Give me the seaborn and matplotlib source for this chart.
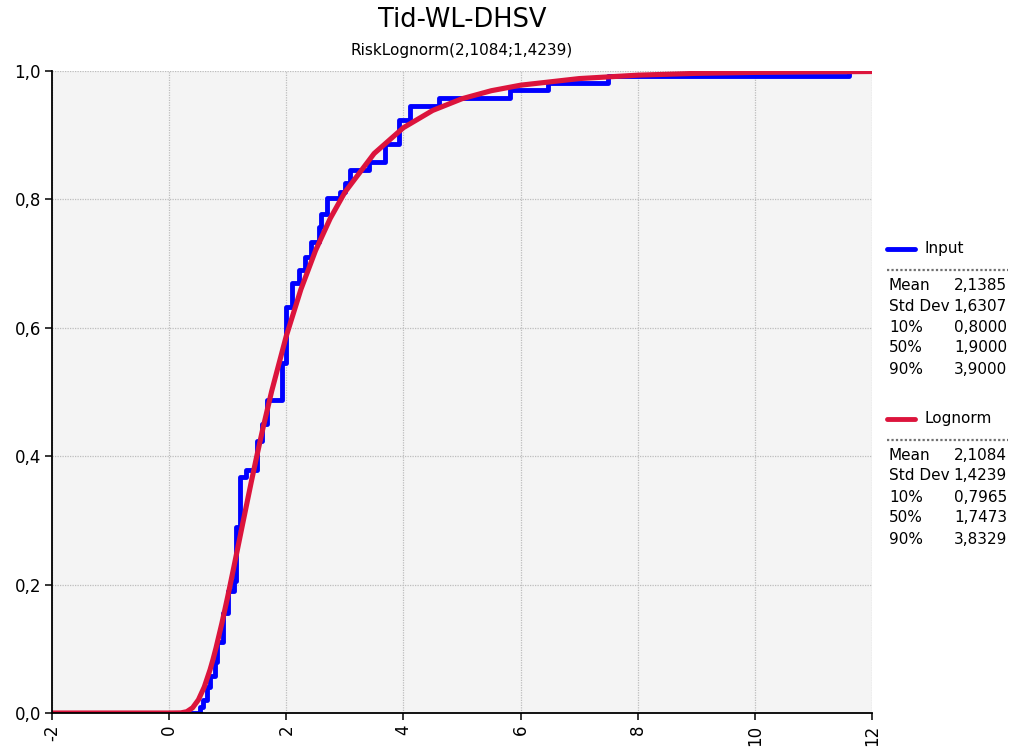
import matplotlib
matplotlib.use("Agg")
import matplotlib.pyplot as plt
from matplotlib.ticker import FuncFormatter
from matplotlib.lines import Line2D
import seaborn as sns

# ---- data ----
input_x = [-2.0, 0.53, 0.58, 0.64, 0.70, 0.78, 0.81, 0.92, 1.01, 1.10, 1.14, 1.21,
           1.32, 1.50, 1.58, 1.67, 1.93, 2.00, 2.09, 2.21, 2.32, 2.42, 2.55, 2.60,
           2.70, 2.92, 3.00, 3.08, 3.42, 3.68, 3.93, 4.12, 4.60, 5.82, 6.47, 7.50,
           11.6, 12.0]
input_cdf = [0.0, 0.01, 0.02, 0.04, 0.057, 0.08, 0.11, 0.155, 0.19, 0.205, 0.29, 0.368,
             0.378, 0.423, 0.45, 0.488, 0.545, 0.633, 0.67, 0.69, 0.711, 0.734, 0.757, 0.778,
             0.802, 0.812, 0.825, 0.846, 0.858, 0.887, 0.924, 0.945, 0.958, 0.970, 0.981, 0.992,
             1.0, 1.0]

fit_x = [-2, 0, 0.2, 0.3, 0.4, 0.5, 0.6, 0.7, 0.75, 0.8, 0.9, 1.0, 1.1, 1.25, 1.4, 1.5,
         1.6, 1.75, 2.0, 2.25, 2.5, 2.75, 3.0, 3.5, 4.0, 4.5, 5.0, 5.5, 6.0, 7.0, 8.0,
         9.0, 10.0, 11.0, 12.0]
fit_cdf = [0, 0, 0.0002, 0.0020, 0.0081, 0.0206, 0.0406, 0.0678, 0.0838, 0.1013, 0.1396,
           0.1813, 0.2252, 0.2924, 0.3589, 0.4017, 0.4429, 0.5010, 0.5872, 0.6600, 0.7205,
           0.7703, 0.8111, 0.8715, 0.9117, 0.9386, 0.9568, 0.9693, 0.9779, 0.9882, 0.9935,
           0.9963, 0.9978, 0.9987, 0.9992]

stat_labels = ["Mean", "Std Dev", "10%", "50%", "90%"]
input_stats = ["2,1385", "1,6307", "0,8000", "1,9000", "3,9000"]
fit_stats = ["2,1084", "1,4239", "0,7965", "1,7473", "3,8329"]

x_ticks = [-2, 0, 2, 4, 6, 8, 10, 12]
y_ticks = [0.0, 0.2, 0.4, 0.6, 0.8, 1.0]

title = "Tid-WL-DHSV"
subtitle = "RiskLognorm(2,1084;1,4239)"

BLUE = "#0000ff"
RED = "#dc143c"

sns.set_style("white")
plt.rcParams["font.family"] = ["DejaVu Sans"]
plt.rcParams["text.color"] = "black"
plt.rcParams["xtick.color"] = "black"
plt.rcParams["ytick.color"] = "black"
plt.rcParams["xtick.labelcolor"] = "black"
plt.rcParams["ytick.labelcolor"] = "black"

W, H = 1011, 753
fig = plt.figure(figsize=(W / 100, H / 100), dpi=100)
ax = fig.add_axes([52 / W, (H - 713) / H, (872 - 52) / W, (713 - 71) / H])
ax.set_facecolor("#f4f4f4")

sns.lineplot(x=input_x, y=input_cdf, ax=ax, color=BLUE, lw=3.5,
             drawstyle="steps-post", estimator=None, sort=False, zorder=3)
sns.lineplot(x=fit_x, y=fit_cdf, ax=ax, color=RED, lw=3.7,
             estimator=None, sort=False, zorder=4)

ax.set_xlim(-2, 12)
ax.set_ylim(0, 1.0)
ax.set_xticks(x_ticks)
ax.set_yticks(y_ticks)
ax.xaxis.set_major_formatter(FuncFormatter(lambda v, p: f"{v:.0f}"))
ax.yaxis.set_major_formatter(FuncFormatter(lambda v, p: f"{v:.1f}".replace(".", ",")))
ax.grid(True, color="#bdbdbd", linestyle=(0, (1, 1)), lw=0.9, zorder=1)
ax.set_axisbelow(True)
for s in ["top", "right"]:
    ax.spines[s].set_visible(False)
for s in ["left", "bottom"]:
    ax.spines[s].set_color("black")
    ax.spines[s].set_linewidth(1.3)
    ax.spines[s].set_zorder(5)
ax.tick_params(axis="both", which="both", direction="out", length=5, width=1.1,
               color="black", labelcolor="black", labelsize=12, left=True, bottom=True)
ax.tick_params(axis="y", pad=3)
for lab in ax.get_xticklabels():
    lab.set_rotation(90)
    lab.set_va("top")
    lab.set_ha("center")
ax.set_xlabel("")
ax.set_ylabel("")

# titles
cx = (52 + 872) / 2 / W
fig.text(cx, 1 - 20 / H, title, ha="center", va="center", fontsize=18.5, color="black")
fig.text(cx, 1 - 51 / H, subtitle, ha="center", va="center", fontsize=11, color="black")

# legend / stats panel on the right
def block(y_head, color, name, values):
    fig.add_artist(Line2D([887 / W, 915 / W], [1 - y_head / H] * 2,
                          color=color, lw=3.5, transform=fig.transFigure))
    fig.text(924 / W, 1 - y_head / H, name, ha="left", va="center", fontsize=11, color="black")
    ysep = y_head + 21
    fig.add_artist(Line2D([887 / W, 1008 / W], [1 - ysep / H] * 2,
                          color="#707070", lw=1.6, linestyle=(0, (1, 1)),
                          transform=fig.transFigure))
    for i, (lab, val) in enumerate(zip(stat_labels, values)):
        yy = 1 - (ysep + 15 + i * 21) / H
        fig.text(889 / W, yy, lab, ha="left", va="center", fontsize=11, color="black")
        fig.text(1007 / W, yy, val, ha="right", va="center", fontsize=11, color="black")

block(249, BLUE, "Input", input_stats)
block(419, RED, "Lognorm", fit_stats)

fig.savefig("out.png", dpi=100)
